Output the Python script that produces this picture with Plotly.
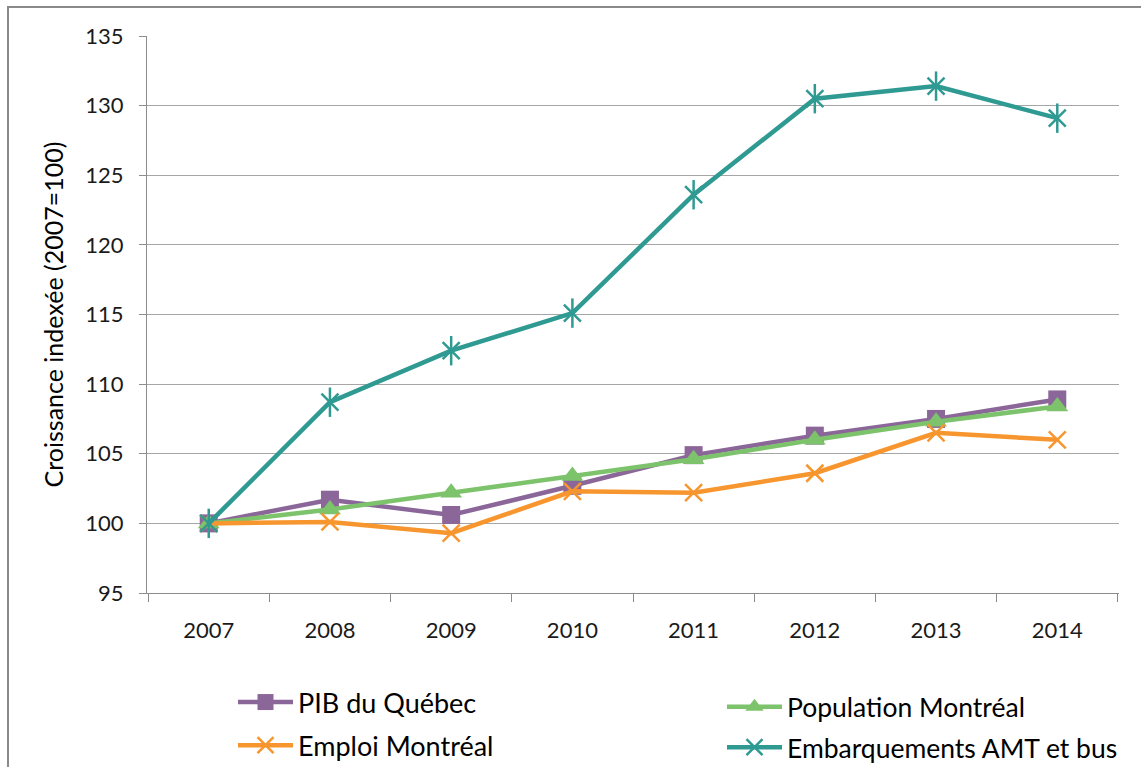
import plotly.graph_objects as go

years = ["2007", "2008", "2009", "2010", "2011", "2012", "2013", "2014"]
pib_quebec = [100.0, 101.7, 100.6, 102.7, 104.9, 106.3, 107.5, 108.9]
population_mtl = [100.0, 101.0, 102.2, 103.4, 104.6, 106.0, 107.3, 108.4]
emploi_mtl = [100.0, 100.1, 99.3, 102.3, 102.2, 103.6, 106.5, 106.0]
embarquements = [100.0, 108.7, 112.4, 115.1, 123.6, 130.5, 131.4, 129.1]
y_ticks = [95, 100, 105, 110, 115, 120, 125, 130, 135]

C_PIB = "#8B6698"
C_EMP = "#F7962E"
C_POP = "#7DC36C"
C_EMB = "#2F9A92"
FONT = "Lato"

fig = go.Figure()
fig.add_trace(go.Scatter(
    x=years, y=pib_quebec, name="PIB du Québec", mode="lines+markers",
    line=dict(color=C_PIB, width=4.5),
    marker=dict(symbol="square", size=18, color=C_PIB),
    legend="legend", legendgroup="a"))
fig.add_trace(go.Scatter(
    x=years, y=population_mtl, name="Population Montréal", mode="lines+markers",
    line=dict(color=C_POP, width=4.5),
    marker=dict(symbol="triangle-up", size=19, color=C_POP),
    legend="legend2", legendgroup="c"))
fig.add_trace(go.Scatter(
    x=years, y=emploi_mtl, name="Emploi Montréal", mode="lines+markers",
    line=dict(color=C_EMP, width=4.5),
    marker=dict(symbol="x-thin-open", size=17, color=C_EMP,
                line=dict(color=C_EMP, width=2.5)),
    legend="legend", legendgroup="b"))
fig.add_trace(go.Scatter(
    x=years, y=embarquements, name="Embarquements AMT et bus", mode="lines+markers",
    line=dict(color=C_EMB, width=4.5),
    marker=dict(symbol="x-thin-open", size=17, color=C_EMB,
                line=dict(color=C_EMB, width=2.5)),
    legend="legend2", legendgroup="d"))
fig.add_trace(go.Scatter(
    x=years, y=embarquements, mode="markers", showlegend=False, hoverinfo="skip",
    marker=dict(symbol="line-ns-open", size=21, color=C_EMB,
                line=dict(color=C_EMB, width=2.5))))

W, H = 1141, 767
L, R, T, B = 147, 22, 36, 174
pw, ph = W - L - R, H - T - B

def px_x(p):
    return (p - L) / pw

def px_y(p):
    return (H - B - p) / ph

fig.update_layout(
    width=W, height=H,
    margin=dict(l=L, r=R, t=T, b=B, autoexpand=False),
    paper_bgcolor="white", plot_bgcolor="white",
    font=dict(family=FONT, color="#1a1a1a"),
    legend=dict(x=px_x(233), y=px_y(678), xanchor="left", yanchor="top",
                font=dict(size=27, family=FONT, color="#000"),
                itemwidth=55, tracegroupgap=5, bgcolor="rgba(0,0,0,0)"),
    legend2=dict(x=px_x(722), y=px_y(683), xanchor="left", yanchor="top",
                 font=dict(size=26.5, family=FONT, color="#000"),
                 itemwidth=55, tracegroupgap=3, bgcolor="rgba(0,0,0,0)"),
    shapes=[dict(type="rect", xref="paper", yref="paper",
                 x0=px_x(8), x1=px_x(1160), y0=px_y(7), y1=px_y(790),
                 line=dict(color="#8a8a8a", width=2), layer="below")],
)
fig.update_xaxes(
    type="category", tickson="boundaries", ticks="outside", ticklen=8,
    tickcolor="#8c8c8c", showline=True, linecolor="#8c8c8c", linewidth=1,
    showgrid=False, tickfont=dict(size=22, family=FONT, color="#1a1a1a"),
    ticklabelstandoff=18)
fig.update_yaxes(
    range=[95, 135], tickvals=y_ticks, ticks="outside", ticklen=7,
    tickcolor="#8c8c8c", showline=True, linecolor="#8c8c8c", linewidth=1,
    showgrid=True, gridcolor="#a6a6a6", gridwidth=1, zeroline=False,
    tickfont=dict(size=22, family=FONT, color="#1a1a1a"), ticklabelstandoff=11,
    title=dict(text="Croissance indexée (2007=100)",
               font=dict(size=25, family=FONT, color="#000"), standoff=14))

fig.write_html("out.html",
               config={"displayModeBar": False},
               post_script="document.body.style.margin='0';"
                           "document.body.style.overflow='hidden';")
